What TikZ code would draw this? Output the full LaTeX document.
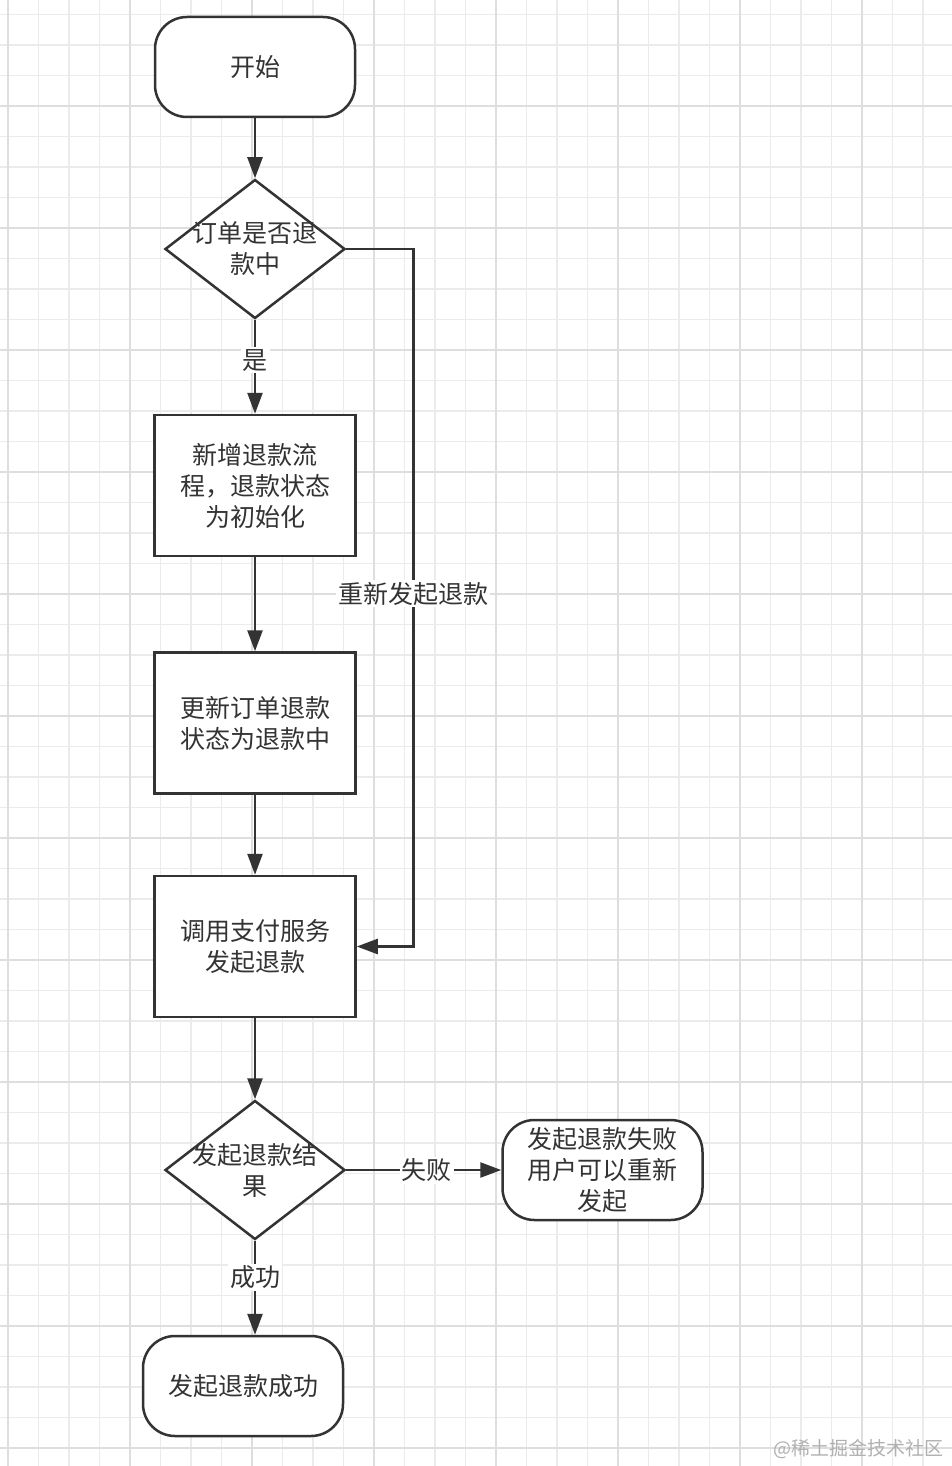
\documentclass[tikz,border=0pt]{standalone}
\usepackage{fontspec}
\setmainfont{Noto Sans CJK SC}
\usetikzlibrary{shapes.geometric, arrows.meta, positioning}
\definecolor{linecol}{HTML}{333333}
\definecolor{textcol}{HTML}{333333}
\definecolor{gridminor}{HTML}{EBEBEB}
\definecolor{gridmajor}{HTML}{DEDEDE}
\definecolor{markcol}{HTML}{B0B0B0}

\begin{document}
\begin{tikzpicture}[
  x=1pt, y=-1pt,
  cjkfont/.style={font=\fontsize{25}{31}\selectfont, text=textcol},
  base/.style={draw=linecol, line width=2.5pt, fill=white, align=center, cjkfont},
  terminal/.style={base, rectangle, rounded corners=32pt, minimum width=200pt, minimum height=100pt},
  process/.style={base, rectangle, minimum width=201pt, minimum height=141pt},
  decision/.style={base, diamond, minimum width=180pt, minimum height=139pt, inner sep=0pt,
                   label={[align=center, cjkfont]center:#1}},
  arrow/.style={-{Triangle[length=21pt, width=15pt]}, draw=linecol, line width=2.5pt},
  lbl/.style={fill=white, inner sep=2pt, cjkfont},
  minor/.style={gridminor, line width=1.5pt},
  major/.style={gridmajor, line width=2pt}
]

\useasboundingbox (0,0) rectangle (952,1466);
\fill[white] (0,0) rectangle (952,1466);

\foreach \k in {0,...,30} \draw[minor] ({8+30.5*\k},0) -- ({8+30.5*\k},1466);
\foreach \k in {0,...,47} \draw[minor] (0,{14.5+30.5*\k}) -- (952,{14.5+30.5*\k});
\foreach \k in {0,...,7} \draw[major] ({8+122*\k},0) -- ({8+122*\k},1466);
\foreach \k in {0,...,11} \draw[major] (0,{106+122*\k}) -- (952,{106+122*\k});

\node[terminal] (start) at (255,67) {开始};
\node[decision={订单是否退\\款中}, below=60pt of start] (inrefund) {};
\node[process, below=94pt of inrefund] (newflow) {新增退款流\\程，退款状态\\为初始化};
\node[process, below=94pt of newflow] (setstate) {更新订单退款\\状态为退款中};
\node[process, below=80pt of setstate] (callpay) {调用支付服务\\发起退款};
\node[decision={发起退款结\\果}, below=81pt of callpay] (result) {};
\node[terminal, below=94pt of result, xshift=-12pt] (success) {发起退款成功};
\node[terminal, right=155pt of result] (failed) {发起退款失败\\用户可以重新\\发起};

\node[text=markcol, font=\fontsize{19}{19}\selectfont, anchor=east] (mark) at (947,1449) {@稀土掘金技术社区};

\draw[arrow] (start) -- (inrefund);
\draw[arrow] (inrefund) -- node[lbl, pos=0.43] {是} (newflow);
\draw[arrow] (newflow) -- (setstate);
\draw[arrow] (setstate) -- (callpay);
\draw[arrow] (callpay) -- (result);
\draw[arrow] (result.south) -- node[lbl, pos=0.39] {成功} (result.south |- success.north);
\draw[arrow] (result) -- node[lbl, pos=0.52] {失败} (failed);
\draw[arrow] (inrefund.east) -- ++(67,0) |- node[lbl, pos=0.247] {重新发起退款} (callpay.east);

\end{tikzpicture}
\end{document}
